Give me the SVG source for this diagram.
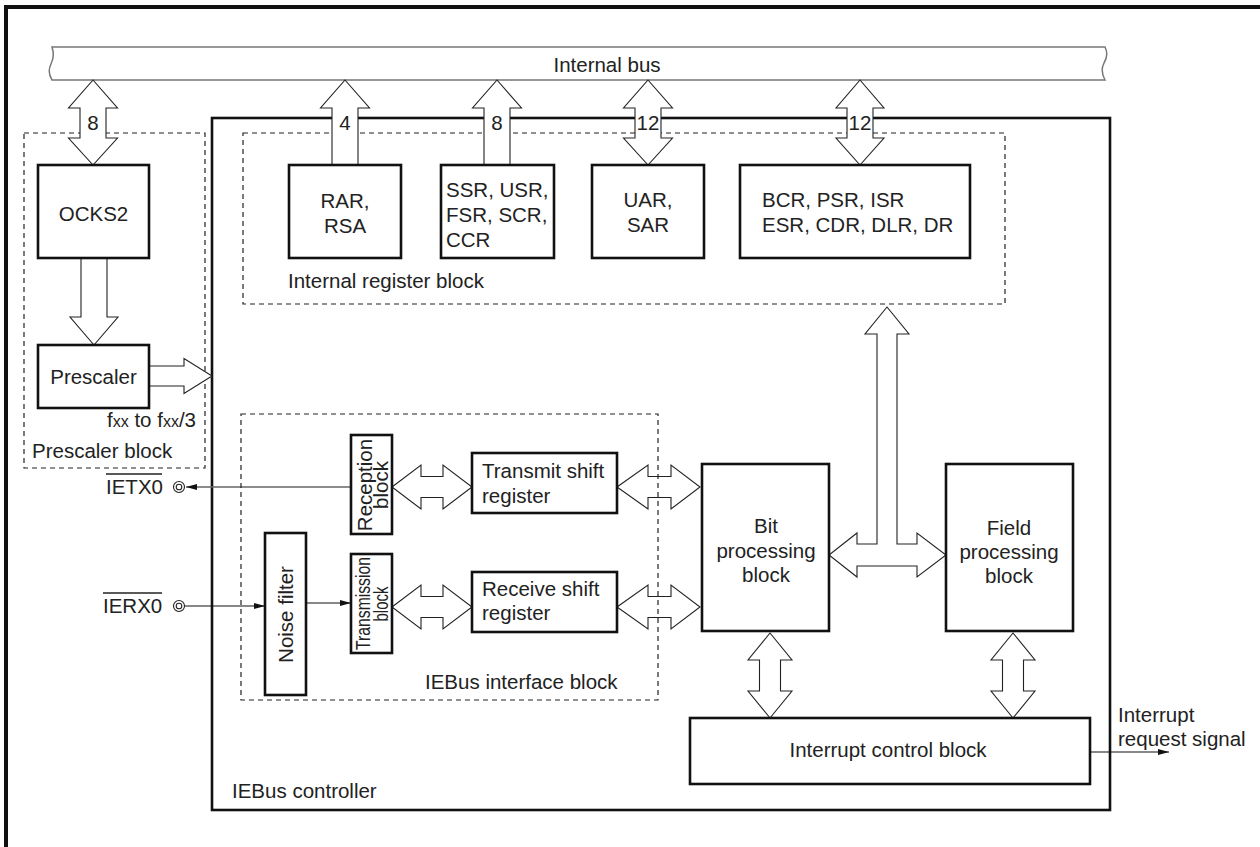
<svg xmlns="http://www.w3.org/2000/svg" width="1260" height="847" viewBox="0 0 1260 847">
<style>
text{font-family:"Liberation Sans",Arial,sans-serif;font-size:20.5px;fill:#222}
.box{fill:#fff;stroke:#111;stroke-width:2.6}
.thick{fill:none;stroke:#111;stroke-width:2.6}
.dash{fill:none;stroke:#222;stroke-width:1.2;stroke-dasharray:5 4}
.arr{fill:#fff;stroke:#222;stroke-width:1.1;stroke-linejoin:miter}
.bus{fill:#fff;stroke:#777;stroke-width:1.5}
.mid{text-anchor:middle}
.sig{fill:none;stroke:#111;stroke-width:1.1}
</style>
<defs>
<marker id="ah" markerWidth="12" markerHeight="8" refX="11" refY="4" orient="auto" markerUnits="userSpaceOnUse">
<path d="M0,1 L11,4 L0,7 Z" fill="#111"/>
</marker>
</defs>
<rect width="1260" height="847" fill="#fff"/>
<!-- outer frame (only top and left visible) -->
<path d="M6,850 L6,7 L1265,7" fill="none" stroke="#111" stroke-width="4"/>

<!-- Internal bus -->
<g id="internal-bus">
<path class="bus" d="M52,47 L1105,47 Q1109,55 1104,63 Q1100,71 1105,80 L52,80 Q47,72 51,64 Q55,56 52,47 Z"/>
<text class="mid" x="607" y="72">Internal bus</text>
</g>

<!-- container blocks -->
<g id="prescaler-block">
<rect class="dash" x="24" y="133" width="181" height="335"/>
<text x="32" y="458">Prescaler block</text>
</g>
<g id="iebus-controller">
<rect class="thick" x="212" y="118" width="898" height="692"/>
<text x="232" y="798">IEBus controller</text>
</g>
<g id="internal-register-block">
<rect class="dash" x="243" y="133" width="762" height="171"/>
<text x="288" y="288">Internal register block</text>
</g>

<!-- connectors -->
<g id="connectors">
<polygon class="arr" points="93,80 117.5,108 106,108 106,138 117.5,138 93,165 68.5,138 80,138 80,108 68.5,108"/>
<polygon class="arr" points="345,80 369.5,108 358,108 358,165 332,165 332,108 320.5,108"/>
<polygon class="arr" points="497,80 521.5,108 510,108 510,165 484,165 484,108 472.5,108"/>
<polygon class="arr" points="648,80 672.5,108 661,108 661,138 672.5,138 648,165 623.5,138 635,138 635,108 623.5,108"/>
<polygon class="arr" points="860,80 884,108 873,108 873,138 884,138 860,165 836,138 847,138 847,108 836,108"/>
<polygon class="arr" points="81,258 107,258 107,317 118,317 94,345 70,317 81,317"/>
<polygon class="arr" points="149,366 184,366 184,358.5 212,376 184,393.5 184,386 149,386"/>
<polygon class="arr" points="392,487 421,465 421,476.5 443,476.5 443,465 472,487 443,509 443,497.5 421,497.5 421,509"/>
<polygon class="arr" points="392,607 421,585 421,596.5 443,596.5 443,585 472,607 443,629 443,617.5 421,617.5 421,629"/>
<polygon class="arr" points="617,487 648,465 648,476.5 671,476.5 671,465 700,487 671,509 671,497.5 648,497.5 648,509"/>
<polygon class="arr" points="617,607 648,585 648,596.5 671,596.5 671,585 700,607 671,629 671,617.5 648,617.5 648,629"/>
<polygon class="arr" points="887,307 909,334 897,334 897,544 917,544 917,533 946,555 917,577 917,566 857,566 857,577 829,555 857,533 857,544 877,544 877,334 865,334"/>
<polygon class="arr" points="770,633 792,660 780.5,660 780.5,691 792,691 770,718 748,691 759.5,691 759.5,660 748,660"/>
<polygon class="arr" points="1013,633 1035,660 1023.5,660 1023.5,691 1035,691 1013,718 991,691 1002.5,691 1002.5,660 991,660"/>
<line x1="351" y1="487" x2="186" y2="487" stroke="#666" stroke-width="1.6" marker-end="url(#ah)"/>
<line x1="185" y1="606" x2="265" y2="606" class="sig" marker-end="url(#ah)"/>
<line x1="306" y1="603" x2="351" y2="603" class="sig" marker-end="url(#ah)"/>
<line x1="1090" y1="752" x2="1169" y2="752" class="sig" marker-end="url(#ah)"/>
</g>

<!-- bus width labels -->
<g id="bus-labels">
<text class="mid" x="93" y="130">8</text>
<text class="mid" x="345" y="130">4</text>
<text class="mid" x="497" y="130">8</text>
<text class="mid" x="648" y="130">12</text>
<text class="mid" x="860" y="130">12</text>
</g>

<g id="iebus-interface-block">
<rect class="dash" x="241" y="414" width="417" height="286"/>
<text x="425" y="689">IEBus interface block</text>
</g>

<!-- nodes -->
<g id="ocks2"><rect class="box" x="38" y="165" width="111" height="93"/><text class="mid" x="93.5" y="221">OCKS2</text></g>
<g id="prescaler"><rect class="box" x="38" y="345" width="111" height="63"/><text class="mid" x="93.5" y="384">Prescaler</text>
<text x="107" y="427">f<tspan font-size="16">xx</tspan> to f<tspan font-size="16">xx</tspan>/3</text></g>
<g id="rar"><rect class="box" x="289" y="165" width="112" height="93"/><text class="mid" x="345" y="208">RAR,</text><text class="mid" x="345" y="233">RSA</text></g>
<g id="ssr"><rect class="box" x="441" y="165" width="113" height="93"/><text x="446" y="197">SSR, USR,</text><text x="446" y="222">FSR, SCR,</text><text x="446" y="247">CCR</text></g>
<g id="uar"><rect class="box" x="592" y="165" width="112" height="93"/><text class="mid" x="648" y="207">UAR,</text><text class="mid" x="648" y="232">SAR</text></g>
<g id="bcr"><rect class="box" x="740" y="165" width="230" height="93"/><text x="762" y="207">BCR, PSR, ISR</text><text x="762" y="232">ESR, CDR, DLR, DR</text></g>

<g id="noise-filter"><rect class="box" x="265" y="533" width="41" height="162"/><text class="mid" transform="translate(293,614.5) rotate(-90)">Noise filter</text></g>
<g id="reception-block"><rect class="box" x="351" y="435" width="41" height="99"/>
<text class="mid" font-size="20" transform="translate(372,485) rotate(-90)">Reception</text>
<text class="mid" font-size="20" transform="translate(388,485) rotate(-90)">block</text></g>
<g id="transmission-block"><rect class="box" x="351" y="554" width="41" height="99"/>
<text class="mid" font-size="19" textLength="93" lengthAdjust="spacingAndGlyphs" transform="translate(370,603.5) rotate(-90)">Transmission</text>
<text class="mid" font-size="19" textLength="35" lengthAdjust="spacingAndGlyphs" transform="translate(388,604) rotate(-90)">block</text></g>

<g id="transmit-shift-register"><rect class="box" x="472" y="453" width="145" height="60"/><text x="482" y="478">Transmit shift</text><text x="482" y="503">register</text></g>
<g id="receive-shift-register"><rect class="box" x="472" y="572" width="145" height="60"/><text x="482" y="596">Receive shift</text><text x="482" y="620">register</text></g>

<g id="bit-processing-block"><rect class="box" x="702" y="464" width="127" height="167"/>
<text class="mid" x="766" y="533">Bit</text><text class="mid" x="766" y="558">processing</text><text class="mid" x="766" y="582">block</text></g>
<g id="field-processing-block"><rect class="box" x="946" y="464" width="127" height="167"/>
<text class="mid" x="1009" y="535">Field</text><text class="mid" x="1009" y="559">processing</text><text class="mid" x="1009" y="583">block</text></g>
<g id="interrupt-control-block"><rect class="box" x="690" y="718" width="400" height="66"/><text class="mid" x="888" y="757">Interrupt control block</text></g>

<g id="interrupt-request-signal"><text x="1118" y="722">Interrupt</text><text x="1118" y="746">request signal</text></g>

<g id="ietx0">
<text x="106" y="494">IETX0</text>
<line x1="106" y1="474" x2="162" y2="474" stroke="#222" stroke-width="1.4"/>
<circle cx="179" cy="487" r="5.5" fill="#fff" stroke="#222" stroke-width="1.1"/>
<circle cx="179" cy="487" r="2.8" fill="none" stroke="#222" stroke-width="1.1"/>
</g>
<g id="ierx0">
<text x="103" y="613">IERX0</text>
<line x1="103" y1="593" x2="162" y2="593" stroke="#222" stroke-width="1.4"/>
<circle cx="179" cy="606" r="5.5" fill="#fff" stroke="#222" stroke-width="1.1"/>
<circle cx="179" cy="606" r="2.8" fill="none" stroke="#222" stroke-width="1.1"/>
</g>
</svg>
